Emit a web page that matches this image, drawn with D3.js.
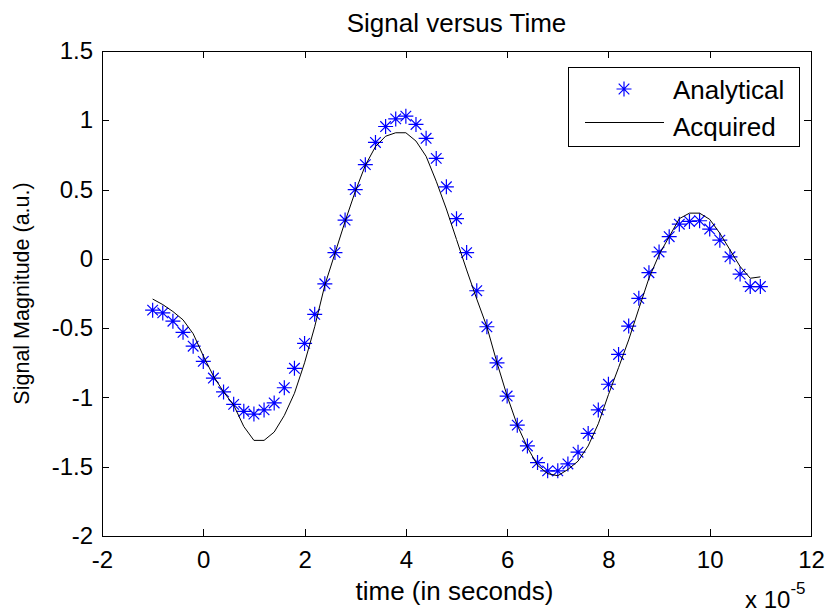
<!DOCTYPE html>
<html>
<head>
<meta charset="utf-8">
<script src="https://cdn.jsdelivr.net/npm/d3@7"></script>
<style>
  body { margin: 0; background: #fff; }
  text { font-family: "Liberation Sans", Arial, sans-serif; fill: #000; }
</style>
</head>
<body>
<div id="chart"></div>
<script>
// time axis (units of 1e-5 s)
const time = [-1.0,-0.8,-0.6,-0.4,-0.2,0.0,0.2,0.4,0.6,0.8,1.0,1.2,1.4,1.6,1.8,2.0,2.2,2.4,2.6,2.8,
  3.0,3.2,3.4,3.6,3.8,4.0,4.2,4.4,4.6,4.8,5.0,5.2,5.4,5.6,5.8,6.0,6.2,6.4,6.6,6.8,
  7.0,7.2,7.4,7.6,7.8,8.0,8.2,8.4,8.6,8.8,9.0,9.2,9.4,9.6,9.8,10.0,10.2,10.4,10.6,10.8,11.0];

const analytical = [-0.37,-0.39,-0.45,-0.53,-0.63,-0.74,-0.86,-0.96,-1.05,-1.10,
  -1.12,-1.09,-1.04,-0.93,-0.79,-0.61,-0.40,-0.18,0.045,0.28,
  0.50,0.68,0.84,0.955,1.01,1.03,0.97,0.87,0.725,0.52,
  0.29,0.045,-0.23,-0.49,-0.75,-0.99,-1.20,-1.35,-1.47,-1.53,
  -1.53,-1.48,-1.395,-1.26,-1.09,-0.905,-0.69,-0.485,-0.285,-0.10,
  0.05,0.16,0.25,0.27,0.275,0.215,0.135,0.015,-0.11,-0.20,
  -0.20];

const acquired = [-0.29,-0.33,-0.38,-0.44,-0.54,-0.70,-0.845,-0.96,-1.055,-1.21,
  -1.31,-1.31,-1.25,-1.13,-0.97,-0.75,-0.49,-0.19,0.04,0.27,
  0.485,0.675,0.81,0.885,0.91,0.91,0.85,0.74,0.56,0.36,
  0.14,-0.08,-0.29,-0.49,-0.75,-0.99,-1.20,-1.36,-1.49,-1.55,
  -1.565,-1.52,-1.46,-1.35,-1.19,-0.98,-0.785,-0.585,-0.36,-0.14,
  0.03,0.16,0.29,0.33,0.33,0.285,0.185,0.065,-0.055,-0.14,
  -0.13];

const xTicks = [-2,0,2,4,6,8,10,12];
const yTicks = [-2,-1.5,-1,-0.5,0,0.5,1,1.5];
const seriesNames = ['Analytical','Acquired'];

const W = 827, H = 614;
const margin = {top: 51, right: 16, bottom: 78, left: 102};
const width = W - margin.left - margin.right;
const height = H - margin.top - margin.bottom;

const svg = d3.select('#chart')
  .append('svg')
    .attr('width', W)
    .attr('height', H);

const g = svg.append('g')
    .attr('transform', `translate(${margin.left},${margin.top})`);

// scales
const x = d3.scaleLinear().domain([-2, 12]).range([0, width]);
const y = d3.scaleLinear().domain([-2, 1.5]).range([height, 0]);

// star marker (matlab '*')
const star = (cx, cy) => {
  const a = 7.5, b = 5.3;
  return `M${cx-a},${cy}H${cx+a}M${cx},${cy-a}V${cy+a}` +
         `M${cx-b},${cy-b}L${cx+b},${cy+b}M${cx-b},${cy+b}L${cx+b},${cy-b}`;
};

// analytical points
g.append('g')
  .selectAll('path')
  .data(time.map((t, i) => [t, analytical[i]]))
  .join('path')
    .attr('d', d => star(x(d[0]), y(d[1])))
    .attr('stroke', '#0000ff')
    .attr('stroke-width', 1.2)
    .attr('fill', 'none');

// acquired line
const line = d3.line()
  .x(d => x(d[0]))
  .y(d => y(d[1]));

g.append('path')
  .datum(time.map((t, i) => [t, acquired[i]]))
  .attr('d', line)
  .attr('fill', 'none')
  .attr('stroke', '#000')
  .attr('stroke-width', 1);

// axes, ticks pointing inward on all four sides
const fmt = d => String(d);

g.append('g')
  .attr('transform', `translate(0,${height})`)
  .call(d3.axisBottom(x).tickValues(xTicks).tickFormat(fmt).tickSizeInner(-7).tickSizeOuter(0).tickPadding(15));

g.append('g')
  .call(d3.axisLeft(y).tickValues(yTicks).tickFormat(fmt).tickSizeInner(-7).tickSizeOuter(0).tickPadding(9));

g.append('g')
  .call(d3.axisTop(x).tickValues(xTicks).tickFormat('').tickSizeInner(-7).tickSizeOuter(0));

g.append('g')
  .attr('transform', `translate(${width},0)`)
  .call(d3.axisRight(y).tickValues(yTicks).tickFormat('').tickSizeInner(-7).tickSizeOuter(0));

g.selectAll('.domain, .tick line')
  .attr('stroke', '#000')
  .attr('shape-rendering', 'crispEdges');

g.selectAll('.tick text')
  .attr('font-size', 24)
  .attr('fill', '#000')
  .attr('font-family', '"Liberation Sans", Arial, sans-serif');

// title and labels
svg.append('text')
  .attr('x', margin.left + width / 2)
  .attr('y', 32)
  .attr('text-anchor', 'middle')
  .attr('font-size', 26)
  .text('Signal versus Time');

svg.append('text')
  .attr('x', margin.left + width / 2 - 2)
  .attr('y', 600)
  .attr('text-anchor', 'middle')
  .attr('font-size', 26)
  .text('time (in seconds)');

svg.append('text')
  .attr('transform', `translate(29,${margin.top + height / 2}) rotate(-90)`)
  .attr('text-anchor', 'middle')
  .attr('font-size', 21.5)
  .text('Signal Magnitude (a.u.)');

// exponent label
const ex = svg.append('text')
  .attr('x', 745)
  .attr('y', 608)
  .attr('font-size', 24);
ex.append('tspan').text('x 10');
ex.append('tspan').attr('font-size', 17).attr('dy', -14).text('-5');

// legend
const lg = svg.append('g').attr('transform', 'translate(568,67)');
lg.append('rect')
  .attr('width', 231)
  .attr('height', 79)
  .attr('fill', '#fff')
  .attr('stroke', '#000')
  .attr('shape-rendering', 'crispEdges');

lg.append('path')
  .attr('d', star(56, 22))
  .attr('stroke', '#0000ff')
  .attr('stroke-width', 1.2)
  .attr('fill', 'none');

lg.append('line')
  .attr('x1', 17).attr('x2', 96)
  .attr('y1', 55.5).attr('y2', 55.5)
  .attr('stroke', '#000');

lg.selectAll('.lbl')
  .data(seriesNames)
  .join('text')
    .attr('class', 'lbl')
    .attr('x', 105)
    .attr('y', (d, i) => 32 + i * 37)
    .attr('font-size', 26)
    .text(d => d);
</script>
</body>
</html>
